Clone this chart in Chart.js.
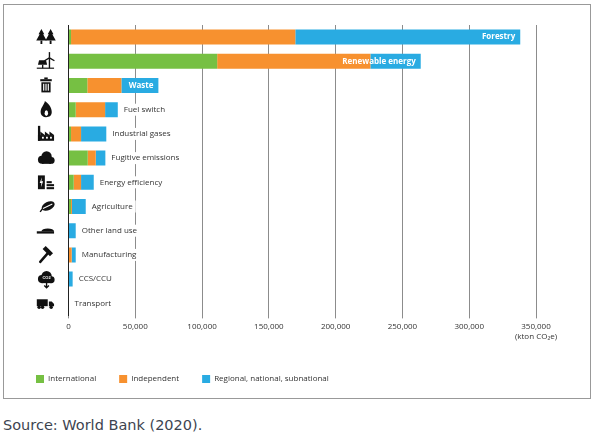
<!DOCTYPE html>
<html>
<head>
<meta charset="utf-8">
<script src="https://cdn.jsdelivr.net/npm/chart.js@4"></script>
<style>
  body { margin: 0; background: #fff; width: 597px; height: 441px; position: relative; overflow: hidden; }
  #frame { position: absolute; left: 3px; top: 4px; width: 588px; height: 395px; border: 1px solid #999; box-sizing: border-box; }
  #wrap { position: absolute; left: 4px; top: 5px; width: 586px; height: 405px; }
  #source { position: absolute; left: 3px; top: 417px; font: 14.5px "DejaVu Sans", sans-serif; color: #3d4450; }
</style>
</head>
<body>
<div id="frame"></div>
<div id="wrap"><canvas id="barChart"></canvas></div>
<div id="source">Source: World Bank (2020).</div>
<script>
// kton CO2e by sector
const categories = ["Forestry", "Renewable energy", "Waste", "Fuel switch", "Industrial gases", "Fugitive emissions",
  "Energy efficiency", "Agriculture", "Other land use", "Manufacturing", "CCS/CCU", "Transport"];
const international = [1900, 111300, 14100, 5400, 1900, 14400, 3900, 1900, 0, 0, 0, 0];
const independent = [167900, 114700, 25500, 22000, 7500, 6000, 5500, 700, 0, 2400, 0, 0];
const regional = [168400, 37700, 27700, 9500, 18900, 7200, 9500, 10300, 5400, 3000, 3100, 0];
const xTicks = [0, 50000, 100000, 150000, 200000, 250000, 300000, 350000];

const green = "#76c043";
const orange = "#f7912f";
const blue = "#29abe2";

// little black pictograms left of the axis, one per category
const icons = [
  (c, x, y) => { // forestry
    [-4, 4].forEach(dx => {
      c.beginPath();
      c.moveTo(x + dx, y - 7);
      c.lineTo(x + dx + 2.5, y - 2.5); c.lineTo(x + dx + 1.5, y - 2.5);
      c.lineTo(x + dx + 4.5, y + 3); c.lineTo(x + dx - 4.5, y + 3);
      c.lineTo(x + dx - 1.5, y - 2.5); c.lineTo(x + dx - 2.5, y - 2.5);
      c.closePath(); c.fill();
      c.fillRect(x + dx - 0.8, y + 3, 1.6, 3);
    });
  },
  (c, x, y) => { // renewable energy
    c.lineWidth = 1.2;
    c.beginPath(); c.moveTo(x + 3, y - 3); c.lineTo(x + 3, y + 6); c.stroke();
    [-90, 30, 150].forEach(a => {
      const r = a * Math.PI / 180;
      c.beginPath(); c.moveTo(x + 3, y - 3); c.lineTo(x + 3 + 5 * Math.cos(r), y - 3 + 5 * Math.sin(r)); c.stroke();
    });
    c.beginPath();
    c.moveTo(x - 6, y - 1); c.lineTo(x, y - 1); c.lineTo(x + 1, y + 3); c.lineTo(x - 7, y + 3);
    c.closePath(); c.fill();
    c.fillRect(x - 3.5, y + 3, 1.2, 3);
    c.fillRect(x - 8, y + 5.5, 15, 1);
  },
  (c, x, y) => { // waste
    c.fillRect(x - 1.5, y - 7, 3, 1.5);
    c.fillRect(x - 5, y - 5.5, 10, 1.8);
    c.fillRect(x - 4, y - 2.8, 8, 8.8);
    c.fillStyle = "#fff";
    [-2, 0, 2].forEach(d => c.fillRect(x + d - 0.5, y - 1.5, 1, 6));
  },
  (c, x, y) => { // fuel switch
    c.beginPath();
    c.moveTo(x, y + 6.5);
    c.bezierCurveTo(x - 5, y + 6.5, x - 6, y + 1, x - 3, y - 3);
    c.bezierCurveTo(x - 2, y - 5, x - 1, y - 6, x - 1, y - 7.5);
    c.bezierCurveTo(x + 4, y - 4, x + 5, y, x + 5, y + 2);
    c.bezierCurveTo(x + 5, y + 5, x + 3, y + 6.5, x, y + 6.5);
    c.fill();
    c.fillStyle = "#fff";
    c.beginPath(); c.ellipse(x + 0.3, y + 3, 1.5, 2.5, 0, 0, Math.PI * 2); c.fill();
  },
  (c, x, y) => { // industrial gases
    c.fillRect(x - 7, y - 7, 2, 13);
    c.fillRect(x - 7, y + 1, 14, 5);
    for (let k = 0; k < 3; k++) {
      c.beginPath();
      c.moveTo(x - 5 + 4 * k, y + 1); c.lineTo(x - 5 + 4 * k, y - 2); c.lineTo(x - 1 + 4 * k, y + 1);
      c.closePath(); c.fill();
    }
    c.fillStyle = "#fff";
    for (let k = 0; k < 3; k++) c.fillRect(x - 3.5 + 3.5 * k, y + 2.5, 1.6, 1.6);
  },
  (c, x, y) => { // fugitive emissions
    c.beginPath(); c.arc(x - 3.5, y + 1.5, 3.5, 0, Math.PI * 2); c.fill();
    c.beginPath(); c.arc(x + 0.5, y - 1.5, 4.5, 0, Math.PI * 2); c.fill();
    c.beginPath(); c.arc(x + 4.5, y + 2, 3, 0, Math.PI * 2); c.fill();
    c.fillRect(x - 3.5, y + 1, 8, 4);
  },
  (c, x, y) => { // energy efficiency
    c.fillRect(x - 7, y - 6, 6, 12);
    c.fillStyle = "#fff";
    c.beginPath();
    c.moveTo(x - 3.5, y - 4.5); c.lineTo(x - 5.5, y + 0.5); c.lineTo(x - 4, y + 0.5);
    c.lineTo(x - 4.5, y + 4.5); c.lineTo(x - 2.5, y - 1); c.lineTo(x - 4, y - 1);
    c.closePath(); c.fill();
    c.fillStyle = "#111";
    c.fillRect(x + 0.5, y - 1, 4.5, 1.8);
    c.fillRect(x + 0.5, y + 1.6, 6.5, 1.8);
    c.fillRect(x + 0.5, y + 4.2, 6.5, 1.8);
  },
  (c, x, y) => { // agriculture
    c.save(); c.translate(x + 1, y); c.rotate(-0.45);
    c.beginPath(); c.ellipse(1, 0, 6, 3.6, 0, 0, Math.PI * 2); c.fill();
    c.strokeStyle = "#fff"; c.lineWidth = 0.8;
    c.beginPath(); c.moveTo(-4, 0); c.lineTo(5, 0); c.stroke();
    c.strokeStyle = "#111"; c.lineWidth = 1.2;
    c.beginPath(); c.moveTo(-4.5, 0); c.lineTo(-7.5, 1.5); c.stroke();
    c.restore();
  },
  (c, x, y) => { // other land use
    c.fillRect(x - 8, y + 0.5, 15, 2);
    c.beginPath(); c.ellipse(x + 1.5, y + 0.8, 5.5, 2.8, 0, Math.PI, Math.PI * 2); c.fill();
  },
  (c, x, y) => { // manufacturing
    c.lineWidth = 2.2; c.lineCap = "round";
    c.beginPath(); c.moveTo(x - 5, y + 6); c.lineTo(x + 2, y - 2); c.stroke();
    c.save(); c.translate(x + 2, y - 3); c.rotate(Math.PI / 4);
    c.fillRect(-5, -1.8, 9, 3.8);
    c.restore();
  },
  (c, x, y) => { // ccs/ccu
    c.beginPath(); c.arc(x - 3.5, y, 3.5, 0, Math.PI * 2); c.fill();
    c.beginPath(); c.arc(x + 0.5, y - 2.5, 4.5, 0, Math.PI * 2); c.fill();
    c.beginPath(); c.arc(x + 4.5, y + 0.5, 3, 0, Math.PI * 2); c.fill();
    c.fillRect(x - 3.5, y, 8, 3.5);
    c.fillStyle = "#fff"; c.font = "bold 3.5px sans-serif"; c.textAlign = "center"; c.textBaseline = "middle";
    c.fillText("CO2", x + 0.5, y - 1);
    c.fillStyle = "#111"; c.lineWidth = 1.2;
    c.beginPath(); c.moveTo(x + 0.5, y + 3); c.lineTo(x + 0.5, y + 7); c.stroke();
    c.beginPath(); c.moveTo(x - 1.5, y + 5.5); c.lineTo(x + 0.5, y + 7.5); c.lineTo(x + 2.5, y + 5.5); c.stroke();
  },
  (c, x, y) => { // transport
    c.fillRect(x - 8, y - 3.5, 9.5, 6);
    c.beginPath();
    c.moveTo(x + 2.5, y - 1.5); c.lineTo(x + 5, y - 1.5); c.lineTo(x + 7, y + 0.5);
    c.lineTo(x + 7, y + 2.5); c.lineTo(x + 2.5, y + 2.5); c.closePath(); c.fill();
    [x - 6, x - 3, x + 4.5].forEach(wx => {
      c.fillStyle = "#111"; c.beginPath(); c.arc(wx, y + 3.5, 1.5, 0, Math.PI * 2); c.fill();
    });
  }
];

const iconColumn = {
  id: "iconColumn",
  afterDraw(chart) {
    const { ctx, scales: { y } } = chart;
    categories.forEach((name, i) => {
      ctx.save();
      ctx.translate(42, y.getPixelForValue(i));
      ctx.scale(1.15, 1.15);
      ctx.fillStyle = "#111";
      ctx.strokeStyle = "#111";
      icons[i](ctx, 0, 0);
      ctx.restore();
    });
  }
};

// sector names at the end of each stacked bar
const barLabels = {
  id: "barLabels",
  afterDatasetsDraw(chart) {
    const { ctx, scales: { x, y } } = chart;
    ctx.save();
    ctx.textBaseline = "middle";
    categories.forEach((name, i) => {
      const total = international[i] + independent[i] + regional[i];
      const end = x.getPixelForValue(total);
      const cy = y.getPixelForValue(i);
      if (total > 60000) {
        ctx.font = "bold 8px 'Open Sans'";
        ctx.fillStyle = "#fff";
        ctx.textAlign = "right";
        ctx.fillText(name, end - 5, cy);
      } else {
        ctx.font = "8px 'Open Sans'";
        const w = ctx.measureText(name).width;
        ctx.fillStyle = "#fff";
        ctx.fillRect(end + 3, cy - 6, w + 6, 12);
        ctx.fillStyle = "#333";
        ctx.textAlign = "left";
        ctx.fillText(name, end + 6, cy);
      }
    });
    ctx.restore();
  }
};

Chart.defaults.font.family = "'Open Sans', sans-serif";
Chart.defaults.color = "#333";

new Chart(document.getElementById("barChart"), {
  type: "bar",
  data: {
    labels: categories,
    datasets: [
      { label: "International", data: international, backgroundColor: green },
      { label: "Independent", data: independent, backgroundColor: orange },
      { label: "Regional, national, subnational", data: regional, backgroundColor: blue }
    ]
  },
  options: {
    indexAxis: "y",
    responsive: true,
    maintainAspectRatio: false,
    animation: false,
    categoryPercentage: 1,
    barPercentage: 0.62,
    layout: { padding: { left: 9, right: 54, top: 20, bottom: 17 } },
    scales: {
      x: {
        stacked: true,
        min: 0,
        max: 350000,
        afterBuildTicks: s => { s.ticks = xTicks.map(v => ({ value: v })); },
        afterFit: s => { s.height = 36.6; },
        grid: { color: "#8c8c8c", lineWidth: 1, drawTicks: true, tickLength: 3 },
        border: { display: false },
        ticks: {
          padding: 4,
          font: { size: 8 },
          color: "#333",
          maxRotation: 0,
          callback: v => v === 350000 ? [v.toLocaleString("en-US"), "(kton CO\u2082e)"] : v.toLocaleString("en-US")
        }
      },
      y: {
        stacked: true,
        afterFit: s => { s.width = 55.5; },
        grid: { display: false },
        border: { display: true, color: "#222", width: 1 },
        ticks: { display: false }
      }
    },
    plugins: {
      legend: {
        position: "bottom",
        align: "start",
        labels: { boxWidth: 8, boxHeight: 8, padding: 23, font: { size: 8 }, color: "#333" }
      },
      tooltip: { enabled: false }
    }
  },
  plugins: [barLabels, iconColumn]
});
</script>
</body>
</html>
